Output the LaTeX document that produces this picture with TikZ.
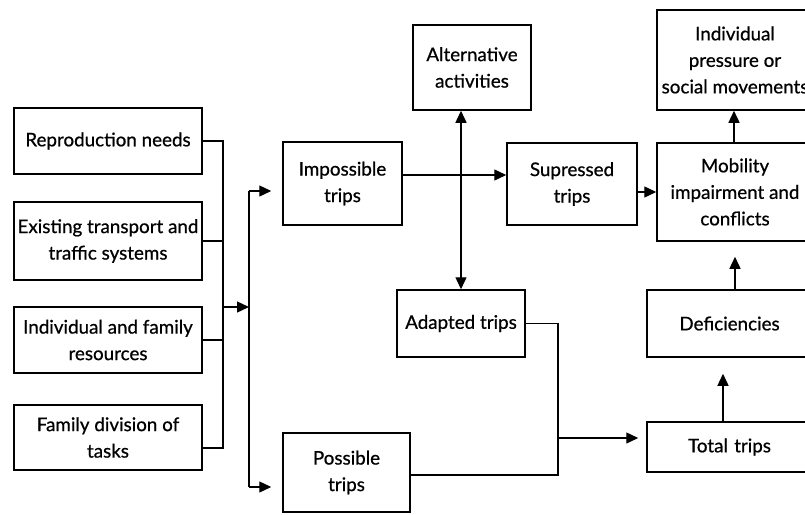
\documentclass[tikz,border=0pt]{standalone}
\usepackage{fontspec}
\setmainfont{Lato}[FakeBold=0.7]
\usetikzlibrary{arrows.meta,calc}
\begin{document}
\begin{tikzpicture}[x=1pt,y=-1pt,
  box/.style={draw, line width=1.5pt, rectangle, inner sep=0pt, align=center,
    font=\fontsize{18.8}{26.5}\selectfont},
  link/.style={line width=1.4pt},
  arr/.style={line width=1.4pt, -{Triangle[length=12pt,width=11pt]}},
  barr/.style={line width=1.4pt, {Triangle[length=12pt,width=11pt]}-{Triangle[length=12pt,width=11pt]}}]
\useasboundingbox (0,0) rectangle (805,514);
\clip (0,0) rectangle (805,514);

% input factors
\node[box, minimum width=188pt, minimum height=66pt] (rep) at (108,141) {Reproduction needs};
\node[box, minimum width=188pt, minimum height=78pt] (ext) at (108,241) {Existing transport and\\traffic systems};
\node[box, minimum width=188pt, minimum height=66pt] (ind) at (108,340) {Individual and family\\resources};
\node[box, minimum width=188pt, minimum height=65pt] (fam) at (108,437.5) {Family division of\\tasks};

% trip categories
\node[box, minimum width=119pt, minimum height=83pt] (imp) at (342.5,183.5) {Impossible\\trips};
\node[box, minimum width=127pt, minimum height=79pt] (pos) at (346.5,472.5) {Possible\\trips};
\node[box, minimum width=118pt, minimum height=85pt] (alt) at (472,67.5) {Alternative\\activities};
\node[box, minimum width=130pt, minimum height=82pt] (sup) at (572,184) {Supressed\\trips};
\node[box, minimum width=128pt, minimum height=67pt] (ada) at (461,323.5) {Adapted trips};

% outcomes
\node[box, minimum width=156pt, minimum height=100pt] (pres) at (735,60) {Individual\\pressure or\\social movements};
\node[box, minimum width=156pt, minimum height=98pt] (mob) at (735,192) {Mobility\\impairment and\\conflicts};
\node[box, minimum width=165pt, minimum height=67pt, text width=154pt] (def) at (729.5,323.5) {Deficiencies};
\node[box, minimum width=165pt, minimum height=50pt, text width=154pt] (tot) at (729.5,447) {Total trips};

% collecting bus of the input factors
\coordinate (b1t) at (223,141);
\coordinate (b1b) at (223,448);
\coordinate (j1) at (223,307);
\draw[link] (rep.east) -- (b1t) -- (b1b) -- (b1b -| fam.east);
\draw[link] (ext.east) -- (ext.east -| b1t);
\draw[link] (ind.east) -- (ind.east -| b1t);

% splitting bus towards impossible / possible trips
\coordinate (b2t) at (249,191);
\coordinate (b2b) at (249,487);
\draw[arr] (j1) -- (j1 -| b2t);
\draw[link] (b2t) -- (b2b);
\draw[arr, shorten >=11pt] (b2t) -- (b2t -| imp.west);
\draw[arr, shorten >=11pt] (b2b) -- (b2b -| pos.west);

% impossible trips
\draw[arr] ([yshift=8.5pt]imp.east) -- ([yshift=8.5pt]imp.east -| sup.west);
\draw[barr] (ada.north) -- (ada.north |- alt.south);
\draw[arr] ([yshift=-8pt]sup.east) -- ([yshift=-8pt]sup.east -| mob.west);
\draw[arr] ([xshift=-1pt]mob.north) -- ([xshift=-1pt]pres.south);

% adapted and possible trips merge into total trips
\coordinate (m) at (558,438);
\draw[link] (ada.east) -| (m) |- ([yshift=-2.5pt]pos.east);
\draw[arr, shorten >=8pt] (m) -- (m -| tot.west);
\draw[arr, shorten >=16pt] (tot.north -| 723,0) -- (def.south -| 723,0);
\draw[arr, shorten >=15pt] (def.north -| 735,0) -- (mob.south -| 735,0);
\end{tikzpicture}
\end{document}
